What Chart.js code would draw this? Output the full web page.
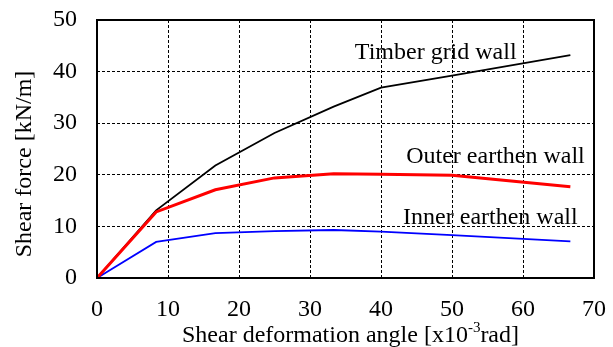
<!DOCTYPE html>
<html>
<head>
<meta charset="utf-8">
<script src="https://cdn.jsdelivr.net/npm/chart.js@4"></script>
<style>
  html, body { margin: 0; padding: 0; background: #fff; }
  #wrap { width: 613px; height: 347px; position: relative; }
</style>
</head>
<body>
<div id="wrap"><canvas id="chart"></canvas></div>
<script>
// shear deformation angle [x10^-3 rad]
const ANGLES  = [0, 8.33, 16.67, 25, 33.33, 40, 50, 66.67];
const TIMBER  = [0, 13.1, 21.8, 28.1, 33.2, 36.9, 39.2, 43.2];
const OUTER   = [0, 12.8, 17.1, 19.4, 20.2, 20.1, 19.9, 17.7];
const INNER   = [0, 7.0, 8.7, 9.1, 9.3, 9.0, 8.3, 7.1];
const X_TICKS = [0, 10, 20, 30, 40, 50, 60, 70];
const Y_TICKS = [0, 10, 20, 30, 40, 50];

// label text + where it sits (right end x, baseline y) in data units
const LABELS = [
  { text: 'Timber grid wall',   x: 59.1, y: 42.4 },
  { text: 'Outer earthen wall', x: 68.7, y: 22.3 },
  { text: 'Inner earthen wall', x: 67.7, y: 10.5 }
];

const FONT = "'Liberation Serif', 'Times New Roman', serif";
const FS = 24;

function pts(ys) {
  return ANGLES.map((a, i) => ({ x: a, y: ys[i] }));
}

const overlay = {
  id: 'overlay',
  afterDatasetsDraw(chart) {
    const { ctx, chartArea: ca, scales: { x, y } } = chart;
    ctx.save();
    // frame
    ctx.strokeStyle = '#000';
    ctx.lineWidth = 2;
    ctx.setLineDash([]);
    ctx.strokeRect(ca.left, ca.top, ca.right - ca.left, ca.bottom - ca.top);

    // series labels
    ctx.fillStyle = '#000';
    ctx.font = FS + 'px ' + FONT;
    ctx.textAlign = 'right';
    ctx.textBaseline = 'alphabetic';
    LABELS.forEach(l => {
      ctx.fillText(l.text, x.getPixelForValue(l.x), y.getPixelForValue(l.y));
    });

    // x title with superscript
    const part1 = 'Shear deformation angle [x10';
    const sup = '-3';
    const part2 = 'rad]';
    const supFont = Math.round(FS * 0.62) + 'px ' + FONT;
    ctx.textAlign = 'left';
    ctx.font = FS + 'px ' + FONT;
    const w1 = ctx.measureText(part1).width;
    const w3 = ctx.measureText(part2).width;
    ctx.font = supFont;
    const w2 = ctx.measureText(sup).width;
    const total = w1 + w2 + w3;
    const cx = (ca.left + ca.right) / 2 + 5;
    const base = 342;
    let sx = cx - total / 2;
    ctx.font = FS + 'px ' + FONT;
    ctx.fillText(part1, sx, base);
    sx += w1;
    ctx.font = supFont;
    ctx.fillText(sup, sx, base - 10);
    sx += w2;
    ctx.font = FS + 'px ' + FONT;
    ctx.fillText(part2, sx, base);

    // y title (sits a bit below the plot's middle in the original)
    ctx.translate(25, 164);
    ctx.rotate(-Math.PI / 2);
    ctx.textAlign = 'center';
    ctx.textBaseline = 'middle';
    ctx.fillText('Shear force [kN/m]', 0, 0);
    ctx.restore();
  }
};

new Chart(document.getElementById('chart'), {
  type: 'line',
  data: {
    datasets: [
      { label: 'Outer earthen wall', data: pts(OUTER), borderColor: '#ff0000', borderWidth: 3, order: 0 },
      { label: 'Inner earthen wall', data: pts(INNER), borderColor: '#0000ff', borderWidth: 1.8, order: 1 },
      { label: 'Timber grid wall',   data: pts(TIMBER), borderColor: '#000000', borderWidth: 1.8, order: 2 }
    ]
  },
  options: {
    responsive: true,
    maintainAspectRatio: false,
    animation: false,
    layout: { padding: { left: 0, right: 19, top: 20, bottom: 0 } },
    elements: {
      point: { radius: 0 },
      line: { tension: 0, fill: false }
    },
    plugins: {
      legend: { display: false },
      tooltip: { enabled: false }
    },
    scales: {
      x: {
        type: 'linear',
        min: 0, max: 70,
        afterBuildTicks: s => { s.ticks = X_TICKS.map(v => ({ value: v })); },
        afterFit: s => { s.height = 69; s.paddingLeft = 0; s.paddingRight = 0; },
        grid: { color: '#000', lineWidth: 1, drawTicks: false },
        border: { display: false, dash: [3, 2] },
        ticks: { color: '#000', padding: 17, maxRotation: 0, font: { family: FONT, size: FS } }
      },
      y: {
        type: 'linear',
        min: 0, max: 50,
        afterBuildTicks: s => { s.ticks = Y_TICKS.map(v => ({ value: v })); },
        afterFit: s => { s.width = 97; s.paddingTop = 0; s.paddingBottom = 0; },
        grid: { color: '#000', lineWidth: 1, drawTicks: false },
        border: { display: false, dash: [3, 2] },
        ticks: { color: '#000', padding: 20, font: { family: FONT, size: FS } }
      }
    }
  },
  plugins: [overlay]
});
</script>
</body>
</html>
